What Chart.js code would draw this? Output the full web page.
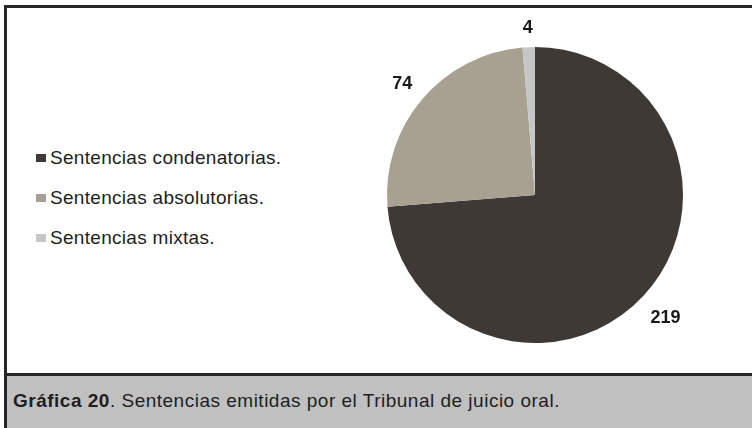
<!DOCTYPE html>
<html lang="es">
<head>
<meta charset="utf-8">
<title>Gráfica 20</title>
<script src="https://cdn.jsdelivr.net/npm/chart.js@4.4.1/dist/chart.umd.min.js"></script>
<style>
  html, body { margin: 0; padding: 0; background: #fff; }
  body { width: 752px; height: 428px; position: relative; overflow: hidden;
         font-family: "Liberation Sans", Arial, sans-serif; color: #1e1e1e; }
  #frame { position: absolute; left: 4px; top: 5px; width: 747px; height: 365px;
           border: 3px solid #262626; border-right: 1px solid #b5b5b5; }
  #caption { position: absolute; left: 4px; top: 376px; width: 748px; height: 52px;
             background: #c0c0c0; border-left: 3px solid #262626; }
  #caption p { margin: 0; position: absolute; left: 6px; top: 15px; font-size: 19px;
               line-height: 19px; letter-spacing: 0.5px; white-space: nowrap; }
  #legend { position: absolute; left: 36px; top: 148px; font-size: 19px; line-height: 19px;
            letter-spacing: 0.3px; }
  #legend div { height: 40px; white-space: nowrap; }
  #legend span.box { display: inline-block; width: 10px; height: 8px; margin: 0 4px 2px 0; }
  #chart { position: absolute; left: 0; top: 0; }
</style>
</head>
<body>
<div id="frame"></div>
<div id="legend"></div>
<div id="caption"><p><b>Gráfica 20</b>. Sentencias emitidas por el Tribunal de juicio oral.</p></div>
<canvas id="chart" width="752" height="428"></canvas>
<script>
// Sentences issued, by type
const categories = ['Sentencias condenatorias.', 'Sentencias absolutorias.', 'Sentencias mixtas.'];
const sentencias = [219, 74, 4];
const colours = ['#3e3934', '#a8a091', '#c6c6c6'];

// legend rows, built from the same arrays as the pie
const legendEl = document.getElementById('legend');
categories.forEach((name, i) => {
    const row = document.createElement('div');
    const box = document.createElement('span');
    box.className = 'box';
    box.style.background = colours[i];
    row.appendChild(box);
    row.appendChild(document.createTextNode(name));
    legendEl.appendChild(row);
});

// value labels just outside each slice
const outsideLabels = {
    id: 'outsideLabels',
    afterDatasetsDraw(chart) {
        const ctx = chart.ctx;
        const meta = chart.getDatasetMeta(0);
        ctx.save();
        ctx.font = 'bold 18px "Liberation Sans", Arial, sans-serif';
        ctx.fillStyle = '#1a1a1a';
        ctx.textAlign = 'center';
        ctx.textBaseline = 'middle';
        meta.data.forEach((arc, i) => {
            const text = String(chart.data.datasets[0].data[i]);
            const mid = (arc.startAngle + arc.endAngle) / 2;
            const w = ctx.measureText(text).width;
            const h = 14;
            const ext = Math.abs(Math.cos(mid)) * w / 2 + Math.abs(Math.sin(mid)) * h / 2;
            const d = arc.outerRadius + 14 + ext;
            ctx.fillText(text, arc.x + Math.cos(mid) * d, arc.y + Math.sin(mid) * d + 2);
        });
        ctx.restore();
    }
};

new Chart(document.getElementById('chart'), {
    type: 'pie',
    data: {
        labels: categories,
        datasets: [{
            data: sentencias,
            backgroundColor: colours,
            borderWidth: 0
        }]
    },
    options: {
        responsive: false,
        animation: false,
        layout: { padding: { left: 387, top: 47, right: 69, bottom: 85 } },
        plugins: {
            legend: { display: false },
            tooltip: { enabled: false }
        }
    },
    plugins: [outsideLabels]
});
</script>
</body>
</html>
